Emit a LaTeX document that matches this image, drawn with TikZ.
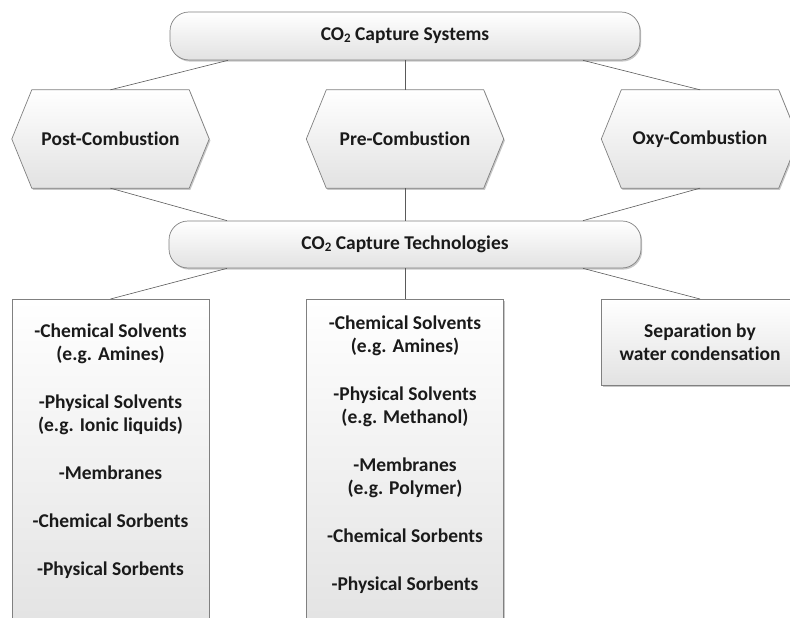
\documentclass[tikz,border=0pt]{standalone}
\usepackage{fontspec}
\setmainfont{Carlito}[Ligatures={NoCommon,NoRare}]
\usetikzlibrary{shadows,backgrounds,calc}
\definecolor{bord}{HTML}{808080}
\definecolor{conn}{HTML}{5A5A5A}
\definecolor{txt}{HTML}{1A1A1A}
\definecolor{shadebot}{HTML}{E2E2E2}
\newcommand\subtwo{\raisebox{-1.5pt}{\fontsize{13}{13}\selectfont 2}}
\tikzset{
  boxfill/.style={top color=white,bottom color=shadebot,draw=bord,line width=0.7pt,
    drop shadow={shadow xshift=1.2pt,shadow yshift=-1.6pt,opacity=0.22,fill=black}},
  lbl/.style={font=\fontsize{19.5}{23}\selectfont\bfseries,text=txt,align=center},
  pill/.style={boxfill,lbl,rectangle,rounded corners=19pt,minimum width=470pt,minimum height=48pt,inner sep=0pt},
  hexlbl/.style={lbl,rectangle,minimum width=197pt,minimum height=98pt,inner sep=0pt},
  tallbox/.style={boxfill,rectangle,anchor=north,minimum width=197pt,minimum height=340pt,inner sep=0pt},
  sepbox/.style={boxfill,lbl,rectangle,anchor=north,minimum width=197pt,minimum height=86pt,inner sep=0pt},
  conn/.style={draw=conn,line width=0.6pt},
  hexpath/.style={boxfill}
}
\begin{document}
\begin{tikzpicture}[x=1pt,y=-1pt]
\useasboundingbox (0,0) rectangle (790,618);
% top level
\node[pill] (sys) at (405,36) {CO\subtwo{} Capture Systems};
% hexagon labels
\node[hexlbl] (post) at (110.5,139) {Post-Combustion};
\node[hexlbl] (pre) at (405,139) {Pre-Combustion};
\node[hexlbl] (oxy) at (700,139) {Oxy-Combustion};
\begin{scope}[on background layer]
\foreach \h in {post,pre,oxy}{
  \path[hexpath] ($(\h.north west)+(20,0)$) -- ($(\h.north east)+(-20,0)$) -- (\h.east)
    -- ($(\h.south east)+(-20,0)$) -- ($(\h.south west)+(20,0)$) -- (\h.west) -- cycle;
}
\end{scope}
% technologies
\node[pill,minimum width=472pt,minimum height=47pt] (tech) at (405,244.5) {CO\subtwo{} Capture Technologies};
% bottom boxes
\node[tallbox] (lbox) at (110.5,299) {};
\node[lbl] (ltext) at (110.5,451) {-Chemical Solvents\\(e.g. Amines)\\[25pt]-Physical Solvents\\(e.g. Ionic liquids)\\[25pt]-Membranes\\[25pt]-Chemical Sorbents\\[25pt]-Physical Sorbents};
\node[tallbox] (mbox) at (405,299) {};
\node[lbl] (mtext) at (405,455) {-Chemical Solvents\\(e.g. Amines)\\[25pt]-Physical Solvents\\(e.g. Methanol)\\[25pt]-Membranes\\(e.g. Polymer)\\[25pt]-Chemical Sorbents\\[25pt]-Physical Sorbents};
\node[sepbox] (rbox) at (700,299) {Separation by\\water condensation};
% connectors
\draw[conn] ([xshift=-177pt]sys.south) -- (post.north);
\draw[conn] (sys.south) -- (pre.north);
\draw[conn] ([xshift=178pt]sys.south) -- (oxy.north);
\draw[conn] (post.south) -- ([xshift=-178pt]tech.north);
\draw[conn] (pre.south) -- (tech.north);
\draw[conn] (oxy.south) -- ([xshift=178pt]tech.north);
\draw[conn] ([xshift=-178pt]tech.south) -- (lbox.north);
\draw[conn] (tech.south) -- (mbox.north);
\draw[conn] ([xshift=178pt]tech.south) -- (rbox.north);
\end{tikzpicture}
\end{document}
